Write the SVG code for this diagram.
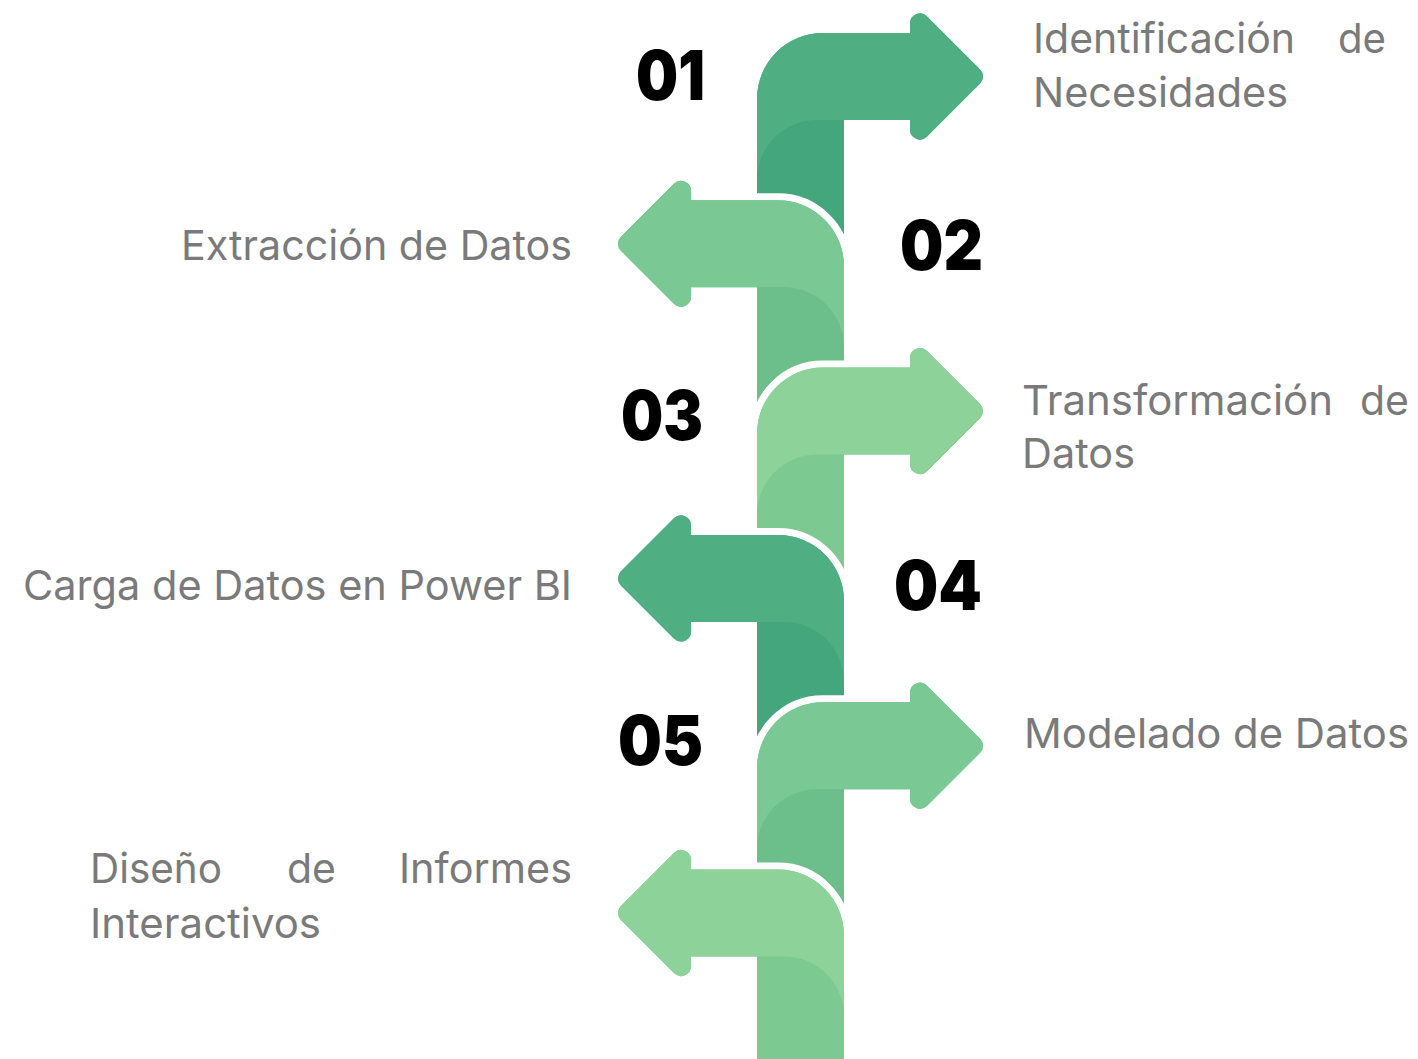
<svg xmlns="http://www.w3.org/2000/svg" xmlns:xlink="http://www.w3.org/1999/xlink" width="1418" height="1059" viewBox="0 0 1418 1059">
<style>
.outline{stroke:#ffffff;stroke-width:14;stroke-linejoin:round;paint-order:stroke}
.lbl{font-family:Inter,"Open Sans","Liberation Sans",sans-serif;font-size:41px;fill:#7a7a7a}
.num{font-family:Inter,Lato,"Liberation Sans",sans-serif;font-size:69px;font-weight:900;fill:#000000}
.c1{fill:#4faf83}.s1{fill:#43a67d}
.c2{fill:#7ac894}.s2{fill:#6cbe8b}
.c3{fill:#8dd298}.s3{fill:#7cc991}
</style>
<defs>
<path id="outR" d="M757 210.8 L757 22.5 A66 66 0 0 1 823 -43.5 L910 -43.5 L910 -53 A10 10 0 0 1 927.07 -60.07 L980.07 -7.07 A10 10 0 0 1 980.07 7.07 L927.07 60.07 A10 10 0 0 1 910 53 L910 43.5 L844 43.5 L844 210.8 Z"/>
<path id="litR" d="M757 103.5 L757 22.5 A66 66 0 0 1 823 -43.5 L910 -43.5 L910 -53 A10 10 0 0 1 927.07 -60.07 L980.07 -7.07 A10 10 0 0 1 980.07 7.07 L927.07 60.07 A10 10 0 0 1 910 53 L910 43.5 L817 43.5 A60 60 0 0 0 757 103.5 Z"/>
<path id="outL" d="M844 210.8 L844 22.5 A66 66 0 0 0 778 -43.5 L691 -43.5 L691 -53 A10 10 0 0 0 673.93 -60.07 L620.93 -7.07 A10 10 0 0 0 620.93 7.07 L673.93 60.07 A10 10 0 0 0 691 53 L691 43.5 L757 43.5 L757 210.8 Z"/>
<path id="outLend" d="M844 160 L844 22.5 A66 66 0 0 0 778 -43.5 L691 -43.5 L691 -53 A10 10 0 0 0 673.93 -60.07 L620.93 -7.07 A10 10 0 0 0 620.93 7.07 L673.93 60.07 A10 10 0 0 0 691 53 L691 43.5 L757 43.5 L757 160 Z"/>
<path id="litL" d="M844 103.5 L844 22.5 A66 66 0 0 0 778 -43.5 L691 -43.5 L691 -53 A10 10 0 0 0 673.93 -60.07 L620.93 -7.07 A10 10 0 0 0 620.93 7.07 L673.93 60.07 A10 10 0 0 0 691 53 L691 43.5 L784 43.5 A60 60 0 0 1 844 103.5 Z"/>
</defs>
<g id="connectors">
<g id="arrow1" transform="translate(0,76.5)"><use href="#outR" class="outline s1"/><use href="#litR" class="c1"/></g>
<g id="arrow2" transform="translate(0,243.8)"><use href="#outL" class="outline s2"/><use href="#litL" class="c2"/></g>
<g id="arrow3" transform="translate(0,411.1)"><use href="#outR" class="outline s3"/><use href="#litR" class="c3"/></g>
<g id="arrow4" transform="translate(0,578.4)"><use href="#outL" class="outline s1"/><use href="#litL" class="c1"/></g>
<g id="arrow5" transform="translate(0,745.7)"><use href="#outR" class="outline s2"/><use href="#litR" class="c2"/></g>
<g id="arrow6" transform="translate(0,913)"><use href="#outLend" class="outline s3"/><use href="#litL" class="c3"/></g>
</g>
<g id="step1">
<text class="num" x="636" y="100" textLength="69" lengthAdjust="spacingAndGlyphs">01</text>
<text class="lbl" y="53"><tspan x="1033" textLength="262" lengthAdjust="spacingAndGlyphs">Identificación</tspan><tspan x="1338" textLength="48" lengthAdjust="spacingAndGlyphs">de</tspan></text>
<text class="lbl" x="1033" y="107" textLength="255" lengthAdjust="spacingAndGlyphs">Necesidades</text>
</g>
<g id="step2">
<text class="num" x="900" y="270" textLength="83" lengthAdjust="spacingAndGlyphs">02</text>
<text class="lbl" x="181" y="260" textLength="391" lengthAdjust="spacingAndGlyphs">Extracción de Datos</text>
</g>
<g id="step3">
<text class="num" x="621" y="440" textLength="82" lengthAdjust="spacingAndGlyphs">03</text>
<text class="lbl" y="415"><tspan x="1022" textLength="311" lengthAdjust="spacingAndGlyphs">Transformación</tspan><tspan x="1360" textLength="49" lengthAdjust="spacingAndGlyphs">de</tspan></text>
<text class="lbl" x="1022" y="468" textLength="113" lengthAdjust="spacingAndGlyphs">Datos</text>
</g>
<g id="step4">
<text class="num" x="894" y="610" textLength="88" lengthAdjust="spacingAndGlyphs">04</text>
<text class="lbl" x="23" y="600" textLength="549" lengthAdjust="spacingAndGlyphs">Carga de Datos en Power BI</text>
</g>
<g id="step5">
<text class="num" x="618" y="765" textLength="85" lengthAdjust="spacingAndGlyphs">05</text>
<text class="lbl" x="1024" y="748" textLength="385" lengthAdjust="spacingAndGlyphs">Modelado de Datos</text>
</g>
<g id="step6">
<text class="lbl" y="883"><tspan x="90" textLength="132" lengthAdjust="spacingAndGlyphs">Diseño</tspan><tspan x="287" textLength="49" lengthAdjust="spacingAndGlyphs">de</tspan><tspan x="399" textLength="173" lengthAdjust="spacingAndGlyphs">Informes</tspan></text>
<text class="lbl" x="90" y="938" textLength="231" lengthAdjust="spacingAndGlyphs">Interactivos</text>
</g>
</svg>
